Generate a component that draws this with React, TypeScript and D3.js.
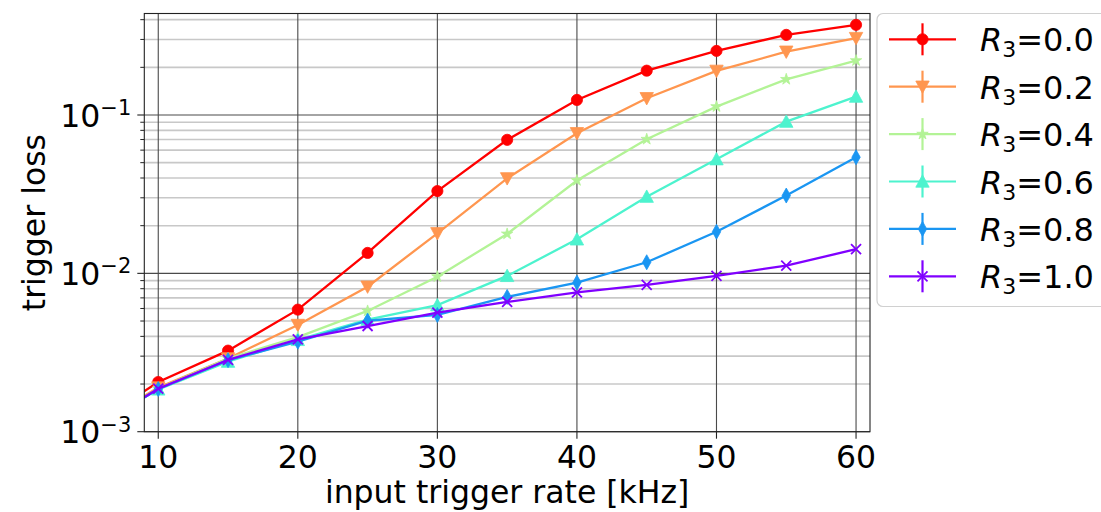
import React from 'react';
import * as d3 from 'd3';

// ---------- data ----------
const rates = [5, 10, 15, 20, 25, 30, 35, 40, 45, 50, 55, 60];
const lossR00 = [0.00106, 0.00206, 0.00325, 0.0059, 0.01346, 0.0331, 0.0697, 0.1245, 0.1905, 0.254, 0.3206, 0.371];
const lossR02 = [0.00104, 0.0019, 0.0029, 0.00472, 0.00824, 0.0179, 0.0398, 0.0767, 0.1276, 0.19, 0.251, 0.306];
const lossR04 = [0.00103, 0.00187, 0.0029, 0.00396, 0.00579, 0.00953, 0.01774, 0.0386, 0.0703, 0.113, 0.168, 0.2207];
const lossR06 = [0.00102, 0.00185, 0.00277, 0.0038, 0.0051, 0.0063, 0.00964, 0.0164, 0.0305, 0.0526, 0.0908, 0.1307];
const lossR08 = [0.00101, 0.00186, 0.00283, 0.0037, 0.00502, 0.00546, 0.0071, 0.00874, 0.01175, 0.0183, 0.031, 0.0541];
const lossR10 = [0.001, 0.00187, 0.00284, 0.00383, 0.00465, 0.00564, 0.0066, 0.00759, 0.00845, 0.00963, 0.0112, 0.0142];

const seriesValues = [lossR00, lossR02, lossR04, lossR06, lossR08, lossR10];
const seriesLabels = ['0.0', '0.2', '0.4', '0.6', '0.8', '1.0'];
const seriesColors = ['#ff0000', '#ff964f', '#b3f396', '#4df3ce', '#1a96f2', '#8000ff'];
const seriesMarkers = ['circle', 'tridown', 'star', 'triup', 'thindiamond', 'x'];

const xTicks = [10, 20, 30, 40, 50, 60];
const yTickExps = [-3, -2, -1];
const xDomain = [9, 61];
const yDomain = [1e-3, 0.4375];

const xLabel = 'input trigger rate [kHz]';
const yLabel = 'trigger loss';

// ---------- layout ----------
const W = 1101;
const H = 512;
const plot = { left: 144.3, right: 870, top: 13.5, bottom: 431.7 };
const FONT = '"DejaVu Sans", sans-serif';
const FS = 31.5;

function markerPath(kind: string): string {
  switch (kind) {
    case 'circle': {
      const r = 5.6;
      return `M${-r},0A${r},${r} 0 1,0 ${r},0A${r},${r} 0 1,0 ${-r},0Z`;
    }
    case 'tridown': {
      const s = 6.7;
      return `M${-s},${-s * 0.85}L${s},${-s * 0.85}L0,${s * 1.0}Z`;
    }
    case 'triup': {
      const s = 6.7;
      return `M${-s},${s * 0.85}L${s},${s * 0.85}L0,${-s * 1.0}Z`;
    }
    case 'star': {
      const R = 6;
      const r = R * 0.381;
      const pts: string[] = [];
      for (let i = 0; i < 10; i++) {
        const a = -Math.PI / 2 + (i * Math.PI) / 5;
        const rr = i % 2 === 0 ? R : r;
        pts.push(`${(rr * Math.cos(a)).toFixed(2)},${(rr * Math.sin(a)).toFixed(2)}`);
      }
      return 'M' + pts.join('L') + 'Z';
    }
    case 'thindiamond': {
      return 'M0,-7.5L4.2,0L0,7.5L-4.2,0Z';
    }
    default:
      return '';
  }
}

function Marker({ kind, color, x, y }: { kind: string; color: string; x: number; y: number }) {
  if (kind === 'x') {
    const s = 5;
    return (
      <path
        d={`M${x - s},${y - s}L${x + s},${y + s}M${x - s},${y + s}L${x + s},${y - s}`}
        stroke={color}
        strokeWidth={1.8}
        fill="none"
      />
    );
  }
  return <path d={markerPath(kind)} transform={`translate(${x},${y})`} fill={color} stroke={color} strokeWidth={0.8} />;
}

export default function App() {
  const x = d3.scaleLinear().domain(xDomain).range([plot.left, plot.right]);
  const y = d3.scaleLog().domain(yDomain).range([plot.bottom, plot.top]);

  const line = d3
    .line<number>()
    .x((_, i) => x(rates[i]))
    .y((d) => y(d));

  const minorVals: number[] = [];
  for (const e of [-3, -2, -1]) {
    for (let k = 2; k <= 9; k++) {
      const v = k * Math.pow(10, e);
      if (v <= yDomain[1]) minorVals.push(v);
    }
  }

  const legendRowY = (i: number) => 39.3 + i * 47.4;

  return (
    <svg
      width={W}
      height={H}
      style={{ position: 'absolute', left: 0, top: 0, background: '#fff' }}
      fontFamily={FONT}
    >
      <defs>
        <clipPath id="plotclip">
          <rect x={plot.left} y={plot.top} width={plot.right - plot.left} height={plot.bottom - plot.top} />
        </clipPath>
      </defs>
      <rect x={0} y={0} width={W} height={H} fill="#fff" />

      {/* minor y grid */}
      <g>
        {minorVals.map((v) => (
          <line key={'mg' + v} x1={plot.left} x2={plot.right} y1={y(v)} y2={y(v)} stroke="#c8c8c8" strokeWidth={1.6} />
        ))}
      </g>
      {/* major grid */}
      <g>
        {yTickExps.map((e) => (
          <line
            key={'yg' + e}
            x1={plot.left}
            x2={plot.right}
            y1={y(Math.pow(10, e))}
            y2={y(Math.pow(10, e))}
            stroke="#4a4a4a"
            strokeWidth={1.1}
          />
        ))}
        {xTicks.map((t) => (
          <line key={'xg' + t} x1={x(t)} x2={x(t)} y1={plot.top} y2={plot.bottom} stroke="#4a4a4a" strokeWidth={1.1} />
        ))}
      </g>

      {/* series */}
      <g clipPath="url(#plotclip)">
        {seriesValues.map((vals, si) => (
          <g key={'s' + si}>
            <path d={line(vals) || ''} fill="none" stroke={seriesColors[si]} strokeWidth={2.3} />
            {vals.map((v, i) => (
              <Marker key={i} kind={seriesMarkers[si]} color={seriesColors[si]} x={x(rates[i])} y={y(v)} />
            ))}
          </g>
        ))}
      </g>

      {/* axes frame */}
      <rect
        x={plot.left}
        y={plot.top}
        width={plot.right - plot.left}
        height={plot.bottom - plot.top}
        fill="none"
        stroke="#222"
        strokeWidth={1.1}
      />

      {/* y ticks */}
      <g>
        {minorVals.map((v) => (
          <line key={'mt' + v} x1={plot.left - 4} x2={plot.left} y1={y(v)} y2={y(v)} stroke="#222" strokeWidth={1} />
        ))}
        {yTickExps.map((e) => {
          const yy = y(Math.pow(10, e));
          return (
            <g key={'yt' + e}>
              <line x1={plot.left - 7} x2={plot.left} y1={yy} y2={yy} stroke="#222" strokeWidth={1.1} />
              <text x={plot.left - 13} y={yy + 11.7} textAnchor="end" fontSize={FS} fill="#000">
                10
                <tspan fontSize={21} dy={-11.7}>
                  {'\u2212' + Math.abs(e)}
                </tspan>
              </text>
            </g>
          );
        })}
      </g>

      {/* x ticks */}
      <g>
        {xTicks.map((t) => (
          <g key={'xt' + t}>
            <line x1={x(t)} x2={x(t)} y1={plot.bottom} y2={plot.bottom + 7} stroke="#222" strokeWidth={1.1} />
            <text x={x(t)} y={468.3} textAnchor="middle" fontSize={FS} fill="#000">
              {t}
            </text>
          </g>
        ))}
      </g>

      {/* axis labels */}
      <text x={(plot.left + plot.right) / 2} y={503} textAnchor="middle" fontSize={FS} fill="#000">
        {xLabel}
      </text>
      <text
        transform={`translate(45,${(plot.top + plot.bottom) / 2}) rotate(-90)`}
        textAnchor="middle"
        fontSize={FS}
        fill="#000"
      >
        {yLabel}
      </text>

      {/* legend */}
      <g>
        <rect x={877} y={13.5} width={240} height={293} rx={6} ry={6} fill="#fff" fillOpacity={0.8} stroke="#d0d0d0" strokeWidth={1.2} />
        {seriesLabels.map((lab, i) => {
          const cy = legendRowY(i);
          const c = seriesColors[i];
          return (
            <g key={'lg' + i}>
              <line x1={889} x2={956} y1={cy} y2={cy} stroke={c} strokeWidth={2.2} />
              <line x1={922.5} x2={922.5} y1={cy - 16} y2={cy + 16} stroke={c} strokeWidth={2.2} />
              <Marker kind={seriesMarkers[i]} color={c} x={922.5} y={cy} />
              <text x={980} y={cy + 12} fontSize={32} fill="#000">
                <tspan fontStyle="italic">R</tspan>
                <tspan fontSize={22} dy={6}>
                  3
                </tspan>
                <tspan dy={-6}>={lab}</tspan>
              </text>
            </g>
          );
        })}
      </g>
    </svg>
  );
}
